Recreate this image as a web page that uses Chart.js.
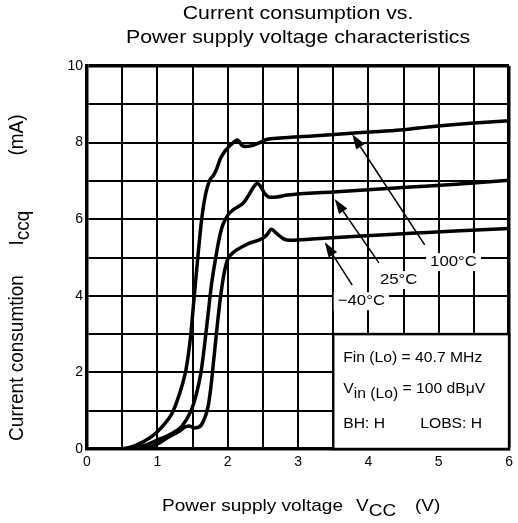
<!DOCTYPE html>
<html>
<head>
<meta charset="utf-8">
<script src="https://cdn.jsdelivr.net/npm/chart.js@4.4.0/dist/chart.umd.min.js"></script>
<style>
  html, body { margin: 0; padding: 0; background: #fff; }
  #wrap { width: 518px; height: 523px; }
</style>
</head>
<body>
<div id="wrap"><canvas id="myChart" width="518" height="523"></canvas></div>
<script>
// data
const hotX = [0, 0.45, 0.7, 0.9, 1.0, 1.1, 1.2, 1.27, 1.35, 1.41, 1.47, 1.52, 1.58, 1.63, 1.68, 1.74, 1.8, 1.84, 1.9, 1.97, 2.05, 2.14, 2.2, 2.26, 2.35, 2.45, 2.55, 2.75, 3.2, 3.8, 4.4, 4.85, 5.5, 6.0]
const hotY = [0, 0, 0.1, 0.3, 0.45, 0.65, 0.9, 1.2, 1.65, 2.1, 2.9, 3.9, 5.1, 6.0, 6.6, 7.0, 7.15, 7.3, 7.6, 7.8, 7.95, 8.07, 7.93, 7.9, 7.92, 8.0, 8.08, 8.12, 8.17, 8.25, 8.32, 8.41, 8.51, 8.57]

const roomX = [0, 0.55, 0.8, 1.0, 1.2, 1.35, 1.48, 1.55, 1.62, 1.67, 1.72, 1.77, 1.83, 1.88, 1.93, 2.0, 2.08, 2.15, 2.22, 2.3, 2.36, 2.42, 2.47, 2.53, 2.6, 2.7, 2.85, 3.5, 4.6, 5.3, 6.0]
const roomY = [0, 0, 0.08, 0.23, 0.4, 0.6, 1.0, 1.4, 2.0, 2.7, 3.5, 4.3, 5.0, 5.5, 5.85, 6.1, 6.25, 6.33, 6.42, 6.63, 6.82, 6.93, 6.85, 6.66, 6.57, 6.58, 6.63, 6.71, 6.84, 6.92, 7.02]

const coldX = [0, 0.6, 0.85, 1.0, 1.15, 1.3, 1.4, 1.45, 1.53, 1.6, 1.66, 1.72, 1.76, 1.8, 1.85, 1.9, 1.95, 2.0, 2.06, 2.15, 2.3, 2.5, 2.56, 2.62, 2.7, 2.8, 2.9, 3.2, 3.9, 4.6, 5.3, 6.0]
const coldY = [0, 0, 0.03, 0.13, 0.3, 0.45, 0.58, 0.6, 0.55, 0.58, 0.75, 1.1, 1.6, 2.3, 3.2, 4.0, 4.6, 4.95, 5.1, 5.22, 5.37, 5.5, 5.6, 5.74, 5.62, 5.48, 5.45, 5.48, 5.56, 5.63, 5.7, 5.76]

// tick labels
const xTickLabels = ['0', '1', '2', '3', '4', '5', '6']
const yTickLabels = ['0', '2', '4', '6', '8', '10']

// temperature labels + arrows (data units)
const tempLabels = ['100°C', '25°C', '−40°C']
const tempLabelX = [5.21, 4.43, 3.9]
const tempLabelY = [4.88, 4.41, 3.86]
const arrowTailX = [4.8, 4.15, 3.77]
const arrowTailY = [5.33, 4.86, 4.28]
const arrowTipX = [3.77, 3.52, 3.38]
const arrowTipY = [8.22, 6.53, 5.40]

// condition box (data units)
const boxX = [3.5, 6]
const boxY = [0, 3]

const FONT = '"Liberation Sans", Arial, sans-serif'
// the original lettering is a bit wide
const S = 1.12

function toPoints(xs, ys) {
    return xs.map((x, i) => ({ x: x, y: ys[i] }))
}

// draws text pieces, each with its own baseline shift, widened by S
function drawParts(ctx, parts, x, y, align) {
    let total = 0
    parts.forEach(p => total += ctx.measureText(p[0]).width * S)
    let cx = align == 'center' ? x - total / 2 : x
    ctx.textAlign = 'left'
    parts.forEach(p => {
        ctx.save()
        ctx.translate(cx, y + p[1])
        ctx.scale(S, 1)
        ctx.fillText(p[0], 0, 0)
        ctx.restore()
        cx += ctx.measureText(p[0]).width * S
    })
}

const extras = {
    id: 'extras',
    afterDatasetsDraw(chart) {
        const ctx = chart.ctx
        const sx = chart.scales.x
        const sy = chart.scales.y
        const area = chart.chartArea
        ctx.save()
        ctx.fillStyle = '#000'
        ctx.strokeStyle = '#000'
        ctx.textBaseline = 'middle'

        // title
        ctx.font = '19px ' + FONT
        const mid = (area.left + area.right) / 2
        drawParts(ctx, [['Current consumption vs.', 0]], mid, 14, 'center')
        drawParts(ctx, [['Power supply voltage characteristics', 0]], mid, 38, 'center')

        // x title
        ctx.font = '17px ' + FONT
        drawParts(ctx, [['Power supply voltage', 0]], 162, 506, 'left')
        drawParts(ctx, [['V', 0], ['CC', 5]], 356, 506, 'left')
        drawParts(ctx, [['(V)', 0]], 415, 506, 'left')

        // y title, rotated
        ctx.font = '19px ' + FONT
        const yParts = [['Current consumtion', 358], ['I', 228], ['(mA)', 135]]
        yParts.forEach(p => {
            ctx.save()
            ctx.translate(18, p[1])
            ctx.rotate(-Math.PI / 2)
            ctx.scale(1, 1.05)
            ctx.textAlign = 'center'
            if( p[0] == 'I' ) {
                const w1 = ctx.measureText('I').width
                const w2 = ctx.measureText('ccq').width
                ctx.textAlign = 'left'
                ctx.fillText('I', -(w1 + w2) / 2, 0)
                ctx.fillText('ccq', -(w1 + w2) / 2 + w1, 5)
            } else {
                ctx.fillText(p[0], 0, 0)
            }
            ctx.restore()
        })

        // condition box
        const bx0 = sx.getPixelForValue(boxX[0])
        const bx1 = sx.getPixelForValue(boxX[1])
        const by0 = sy.getPixelForValue(boxY[1])
        const by1 = sy.getPixelForValue(boxY[0])
        ctx.fillStyle = '#fff'
        ctx.fillRect(bx0, by0, bx1 - bx0, by1 - by0)
        ctx.lineWidth = 2.5
        ctx.strokeRect(bx0, by0, bx1 - bx0, by1 - by0)
        ctx.fillStyle = '#000'
        ctx.font = '14px ' + FONT
        drawParts(ctx, [['Fin (Lo) = 40.7 MHz', 0]], bx0 + 10, by0 + 24, 'left')
        drawParts(ctx, [['V', -2], ['in (Lo)', 3], [' = 100 dBμV', -2]], bx0 + 10, by0 + 57, 'left')
        drawParts(ctx, [['BH: H', 0]], bx0 + 10, by0 + 90, 'left')
        drawParts(ctx, [['LOBS: H', 0]], bx0 + 87, by0 + 90, 'left')

        // arrows
        ctx.lineWidth = 1.5
        for( let i = 0; i < tempLabels.length; i++ ) {
            const x0 = sx.getPixelForValue(arrowTailX[i])
            const y0 = sy.getPixelForValue(arrowTailY[i])
            const x1 = sx.getPixelForValue(arrowTipX[i])
            const y1 = sy.getPixelForValue(arrowTipY[i])
            const a = Math.atan2(y1 - y0, x1 - x0)
            const len = 15, half = 5
            const bxh = x1 - len * Math.cos(a)
            const byh = y1 - len * Math.sin(a)
            ctx.beginPath()
            ctx.moveTo(x0, y0)
            ctx.lineTo(bxh, byh)
            ctx.stroke()
            ctx.beginPath()
            ctx.moveTo(x1, y1)
            ctx.lineTo(bxh + half * Math.sin(a), byh - half * Math.cos(a))
            ctx.lineTo(bxh - half * Math.sin(a), byh + half * Math.cos(a))
            ctx.closePath()
            ctx.fill()
        }

        // temperature labels on white
        ctx.font = '15px ' + FONT
        for( let i = 0; i < tempLabels.length; i++ ) {
            const lx = sx.getPixelForValue(tempLabelX[i])
            const ly = sy.getPixelForValue(tempLabelY[i])
            const w = ctx.measureText(tempLabels[i]).width * S
            ctx.fillStyle = '#fff'
            ctx.fillRect(lx - w / 2 - 4, ly - 9, w + 8, 18)
            ctx.fillStyle = '#000'
            drawParts(ctx, [[tempLabels[i], 0]], lx, ly, 'center')
        }
        ctx.restore()
    }
}

const lineStyle = {
    showLine: true,
    borderColor: '#000',
    borderWidth: 3.5,
    pointRadius: 0,
    cubicInterpolationMode: 'monotone',
    fill: false
}

const ctx = document.getElementById('myChart').getContext('2d')

let myChart = new Chart(ctx, {
    type: 'scatter',
    data: {
        datasets: [
            Object.assign({ label: '100°C', data: toPoints(hotX, hotY) }, lineStyle),
            Object.assign({ label: '25°C', data: toPoints(roomX, roomY) }, lineStyle),
            Object.assign({ label: '−40°C', data: toPoints(coldX, coldY) }, lineStyle)
        ]
    },
    options: {
        responsive: false,
        animation: false,
        events: [],
        layout: { padding: { left: 0, right: 5, top: 66, bottom: 0 } },
        plugins: {
            legend: { display: false },
            tooltip: { enabled: false },
            title: { display: false }
        },
        scales: {
            x: {
                type: 'linear',
                min: 0,
                max: 6,
                afterFit: s => { s.height = 74 },
                border: { display: true, color: '#000', width: 3.5 },
                grid: {
                    color: '#000',
                    drawTicks: false,
                    lineWidth: c => (c.tick && c.tick.value == 6) ? 3.5 : 2
                },
                ticks: {
                    stepSize: 0.5,
                    padding: 5,
                    color: '#000',
                    font: { family: FONT, size: 14 },
                    maxRotation: 0,
                    autoSkip: false,
                    callback: v => Number.isInteger(v) ? xTickLabels[v] : ''
                }
            },
            y: {
                type: 'linear',
                min: 0,
                max: 10,
                afterFit: s => { s.width = 87 },
                border: { display: true, color: '#000', width: 3.5 },
                grid: {
                    color: '#000',
                    drawTicks: false,
                    lineWidth: c => (c.tick && c.tick.value == 10) ? 3.5 : 2
                },
                ticks: {
                    stepSize: 1,
                    padding: 4,
                    color: '#000',
                    font: { family: FONT, size: 14 },
                    autoSkip: false,
                    callback: v => v % 2 == 0 ? yTickLabels[v / 2] : ''
                }
            }
        }
    },
    plugins: [extras]
})
</script>
</body>
</html>
